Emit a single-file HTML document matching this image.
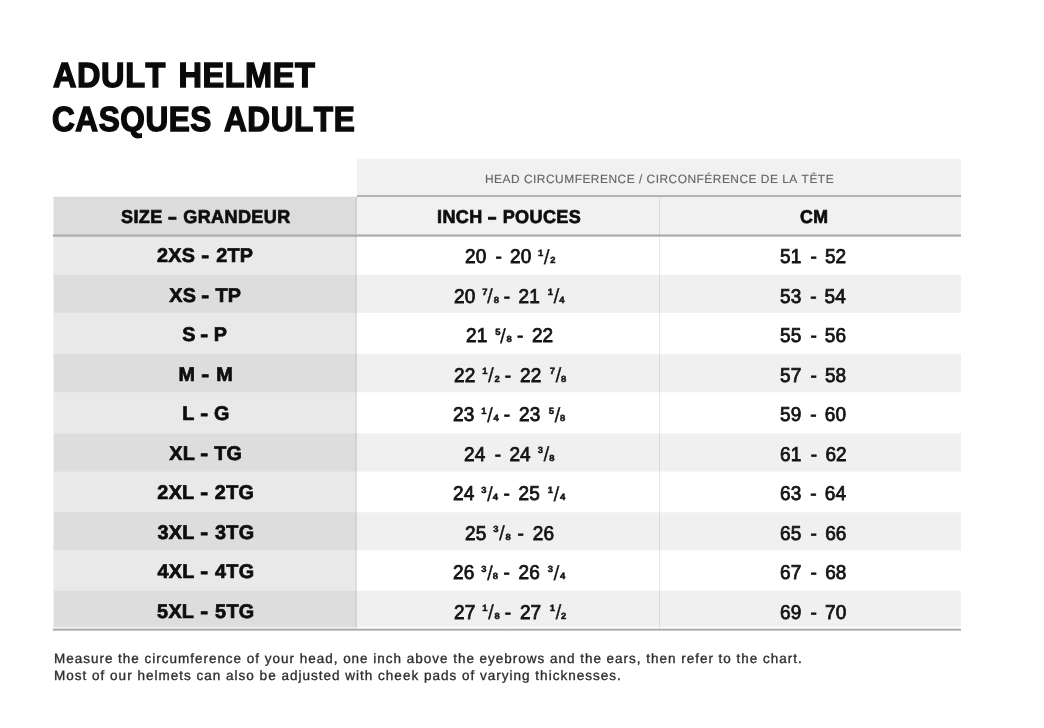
<!DOCTYPE html><html lang="en"><head><meta charset="utf-8"><title>Adult Helmet Size Chart</title><style>
html,body{margin:0;padding:0;background:#fff;}
body{width:1044px;height:728px;position:relative;overflow:hidden;font-family:"Liberation Sans",sans-serif;}
.b{position:absolute;}
.t{position:absolute;white-space:nowrap;line-height:1;transform-origin:0 0;text-rendering:geometricPrecision;font-kerning:none;filter:blur(0.35px);}
.t span{display:inline-block;}
.t .I{letter-spacing:0.1px;margin-right:-0.1px;}
.t .n,.t .d{font-size:9px;line-height:10px;font-weight:700;-webkit-text-stroke:0.5px #141414;transform:scaleX(1.1);margin:0 0.5px;}
.t .n{position:relative;top:-7.3px;}
.t .sl{font-size:20.5px;line-height:17px;margin:0 0.5px 0 0.4px;position:relative;top:0.4px;-webkit-text-stroke:0.2px #141414;transform:scaleX(1.08);}
.t .g{height:1px;}
.t .hb{transform:scaleX(1.55);margin:0 1.6px;}
.t .hs{transform:scaleX(1.2);margin:0 0.5px;}
</style></head><body>
<div class="b" style="left:357px;top:150px;width:604px;height:490px;background:linear-gradient(to bottom,rgba(255,255,255,0) 8.20px,#f1f1f1 9.20px,#f1f1f1 84.10px,rgba(255,255,255,0) 85.10px,rgba(255,255,255,0) 124.40px,#f0f0f0 125.40px,#f0f0f0 162.40px,rgba(255,255,255,0) 163.40px,rgba(255,255,255,0) 203.60px,#f0f0f0 204.60px,#f0f0f0 241.80px,rgba(255,255,255,0) 242.80px,rgba(255,255,255,0) 282.90px,#f0f0f0 283.90px,#f0f0f0 321.10px,rgba(255,255,255,0) 322.10px,rgba(255,255,255,0) 361.80px,#f0f0f0 362.80px,#f0f0f0 399.70px,rgba(255,255,255,0) 400.70px,rgba(255,255,255,0) 440.20px,#f0f0f0 441.20px,#f0f0f0 476.30px,rgba(255,255,255,0) 477.30px)"></div>
<div class="b" style="left:53px;top:150px;width:304px;height:490px;background:linear-gradient(to bottom,rgba(255,255,255,0) 46.20px,#dcdcdc 47.20px,#dcdcdc 84.10px,#e9e9e9 85.10px,#e9e9e9 124.40px,#dddddd 125.40px,#dddddd 162.40px,#e9e9e9 163.40px,#e9e9e9 203.60px,#dddddd 204.60px,#dddddd 241.80px,#e9e9e9 242.80px,#e9e9e9 282.90px,#dddddd 283.90px,#dddddd 321.10px,#e9e9e9 322.10px,#e9e9e9 361.80px,#dddddd 362.80px,#dddddd 399.70px,#e9e9e9 400.70px,#e9e9e9 440.20px,#dddddd 441.20px,#dddddd 476.30px,#efefef 477.30px,#efefef 478.20px,rgba(255,255,255,0) 479.20px)"></div>
<div class="b" style="left:53.0px;top:150.0px;width:1.0px;height:490.0px;background:rgba(255,255,255,0.5)"></div>
<div class="b" style="left:355.0px;top:197.0px;width:2.0px;height:431.0px;background:rgba(0,0,0,0.045)"></div>
<div class="b" style="left:659.0px;top:197.0px;width:1.0px;height:432.0px;background:rgba(0,0,0,0.09)"></div>
<div class="b" style="left:357px;top:193px;width:604px;height:6px;background:linear-gradient(to bottom,rgba(160,160,160,0) 1.70px,#a9a9a9 2.70px,#a9a9a9 3.40px,rgba(160,160,160,0) 4.40px)"></div>
<div class="b" style="left:53px;top:232px;width:908px;height:7px;background:linear-gradient(to bottom,rgba(160,160,160,0) 1.80px,#b8b8b8 2.80px,#a2a2a2 4.10px,rgba(160,160,160,0) 5.10px)"></div>
<div class="b" style="left:53px;top:626px;width:908px;height:7px;background:linear-gradient(to bottom,rgba(160,160,160,0) 2.20px,#a8a8a8 3.20px,#b0b0b0 4.20px,rgba(160,160,160,0) 5.20px)"></div>
<div class="t" id="t1" style="left:52.94px;top:58.94px;font-size:34.80px;line-height:34.80px;font-weight:700;color:#0a0a0a;transform:scaleX(0.9346);letter-spacing:0.60px;word-spacing:3.00px;-webkit-text-stroke:1.40px #0a0a0a;">ADULT HELMET</div>
<div class="t" id="t2" style="left:52.46px;top:102.74px;font-size:34.80px;line-height:34.80px;font-weight:700;color:#0a0a0a;transform:scaleX(0.9074);letter-spacing:0.60px;word-spacing:3.00px;-webkit-text-stroke:1.40px #0a0a0a;">CASQUES ADULTE</div>
<div class="t" id="hc" style="left:484.59px;top:173.04px;font-size:12.00px;line-height:12.00px;font-weight:400;color:#666;transform:scaleX(0.9940);letter-spacing:0.50px;-webkit-text-stroke:0.15px #666;">HEAD CIRCUMFERENCE / CIRCONFÉRENCE DE LA TÊTE</div>
<div class="t" id="h1" style="left:121.03px;top:208.46px;font-size:18.60px;line-height:18.60px;font-weight:700;color:#0d0d0d;transform:scaleX(0.9700);letter-spacing:0.40px;word-spacing:0.18px;-webkit-text-stroke:0.70px #0d0d0d;">SIZE <span class="hb">-</span> GRANDEUR</div>
<div class="t" id="h2" style="left:436.57px;top:208.36px;font-size:18.60px;line-height:18.60px;font-weight:700;color:#0d0d0d;transform:scaleX(0.9700);letter-spacing:0.40px;word-spacing:-0.15px;-webkit-text-stroke:0.70px #0d0d0d;">INCH <span class="hb">-</span> POUCES</div>
<div class="t" id="h3" style="left:799.60px;top:208.26px;font-size:18.60px;line-height:18.60px;font-weight:700;color:#0d0d0d;transform:scaleX(0.9540);letter-spacing:0.40px;-webkit-text-stroke:0.70px #0d0d0d;">CM</div>
<div class="t" id="s0" style="left:156.96px;top:247.44px;font-size:19.80px;line-height:19.80px;font-weight:700;color:#0d0d0d;letter-spacing:0.30px;word-spacing:0.72px;-webkit-text-stroke:0.70px #0d0d0d;">2XS <span class="hs">-</span> 2TP</div>
<div class="t" id="s1" style="left:169.30px;top:286.94px;font-size:19.80px;line-height:19.80px;font-weight:700;color:#0d0d0d;letter-spacing:0.30px;word-spacing:-0.16px;-webkit-text-stroke:0.70px #0d0d0d;">XS <span class="hs">-</span> TP</div>
<div class="t" id="s2" style="left:182.27px;top:326.44px;font-size:19.80px;line-height:19.80px;font-weight:700;color:#0d0d0d;letter-spacing:0.30px;word-spacing:-0.78px;-webkit-text-stroke:0.70px #0d0d0d;">S <span class="hs">-</span> P</div>
<div class="t" id="s3" style="left:178.61px;top:365.94px;font-size:19.80px;line-height:19.80px;font-weight:700;color:#0d0d0d;letter-spacing:0.30px;word-spacing:0.65px;-webkit-text-stroke:0.70px #0d0d0d;">M <span class="hs">-</span> M</div>
<div class="t" id="s4" style="left:182.32px;top:405.44px;font-size:19.80px;line-height:19.80px;font-weight:700;color:#0d0d0d;letter-spacing:0.30px;word-spacing:-0.15px;-webkit-text-stroke:0.70px #0d0d0d;">L <span class="hs">-</span> G</div>
<div class="t" id="s5" style="left:169.28px;top:444.94px;font-size:19.80px;line-height:19.80px;font-weight:700;color:#0d0d0d;letter-spacing:0.30px;word-spacing:-0.24px;-webkit-text-stroke:0.70px #0d0d0d;">XL <span class="hs">-</span> TG</div>
<div class="t" id="s6" style="left:157.33px;top:484.44px;font-size:19.80px;line-height:19.80px;font-weight:700;color:#0d0d0d;letter-spacing:0.30px;word-spacing:0.42px;-webkit-text-stroke:0.70px #0d0d0d;">2XL <span class="hs">-</span> 2TG</div>
<div class="t" id="s7" style="left:157.45px;top:523.94px;font-size:19.80px;line-height:19.80px;font-weight:700;color:#0d0d0d;letter-spacing:0.30px;word-spacing:0.45px;-webkit-text-stroke:0.70px #0d0d0d;">3XL <span class="hs">-</span> 3TG</div>
<div class="t" id="s8" style="left:157.44px;top:563.44px;font-size:19.80px;line-height:19.80px;font-weight:700;color:#0d0d0d;letter-spacing:0.30px;word-spacing:0.44px;-webkit-text-stroke:0.70px #0d0d0d;">4XL <span class="hs">-</span> 4TG</div>
<div class="t" id="s9" style="left:157.09px;top:602.94px;font-size:19.80px;line-height:19.80px;font-weight:700;color:#0d0d0d;letter-spacing:0.30px;word-spacing:0.68px;-webkit-text-stroke:0.70px #0d0d0d;">5XL <span class="hs">-</span> 5TG</div>
<div class="t" id="i0" style="left:464.71px;top:247.17px;font-size:20.00px;line-height:20.00px;font-weight:400;color:#141414;transform:scaleX(0.9500);-webkit-text-stroke:0.80px #141414;"><span class="I">20</span><span class="g" style="width:9.84px"></span><span class="H">-</span><span class="g" style="width:8.57px"></span><span class="I">20</span><span class="g" style="width:6.89px"></span><span class="F"><span class="n">1</span><span class="sl">/</span><span class="d">2</span></span></div>
<div class="t" id="i1" style="left:453.69px;top:286.67px;font-size:20.00px;line-height:20.00px;font-weight:400;color:#141414;transform:scaleX(0.9500);-webkit-text-stroke:0.80px #141414;"><span class="I">20</span><span class="g" style="width:6.65px"></span><span class="F"><span class="n">7</span><span class="sl">/</span><span class="d">8</span></span><span class="g" style="width:4.75px"></span><span class="H">-</span><span class="g" style="width:8.96px"></span><span class="I">21</span><span class="g" style="width:7.91px"></span><span class="F"><span class="n">1</span><span class="sl">/</span><span class="d">4</span></span></div>
<div class="t" id="i2" style="left:465.89px;top:326.17px;font-size:20.00px;line-height:20.00px;font-weight:400;color:#141414;transform:scaleX(0.9500);-webkit-text-stroke:0.80px #141414;"><span class="I">21</span><span class="g" style="width:7.68px"></span><span class="F"><span class="n">5</span><span class="sl">/</span><span class="d">8</span></span><span class="g" style="width:5.16px"></span><span class="H">-</span><span class="g" style="width:8.94px"></span><span class="I">22</span></div>
<div class="t" id="i3" style="left:453.67px;top:365.67px;font-size:20.00px;line-height:20.00px;font-weight:400;color:#141414;transform:scaleX(0.9500);-webkit-text-stroke:0.80px #141414;"><span class="I">22</span><span class="g" style="width:7.18px"></span><span class="F"><span class="n">1</span><span class="sl">/</span><span class="d">2</span></span><span class="g" style="width:5.28px"></span><span class="H">-</span><span class="g" style="width:9.49px"></span><span class="I">22</span><span class="g" style="width:8.44px"></span><span class="F"><span class="n">7</span><span class="sl">/</span><span class="d">8</span></span></div>
<div class="t" id="i4" style="left:453.07px;top:405.17px;font-size:20.00px;line-height:20.00px;font-weight:400;color:#141414;transform:scaleX(0.9500);-webkit-text-stroke:0.80px #141414;"><span class="I">23</span><span class="g" style="width:7.18px"></span><span class="F"><span class="n">1</span><span class="sl">/</span><span class="d">4</span></span><span class="g" style="width:5.28px"></span><span class="H">-</span><span class="g" style="width:9.49px"></span><span class="I">23</span><span class="g" style="width:8.44px"></span><span class="F"><span class="n">5</span><span class="sl">/</span><span class="d">8</span></span></div>
<div class="t" id="i5" style="left:463.93px;top:444.67px;font-size:20.00px;line-height:20.00px;font-weight:400;color:#141414;transform:scaleX(0.9500);-webkit-text-stroke:0.80px #141414;"><span class="I">24</span><span class="g" style="width:10.02px"></span><span class="H">-</span><span class="g" style="width:8.75px"></span><span class="I">24</span><span class="g" style="width:7.07px"></span><span class="F"><span class="n">3</span><span class="sl">/</span><span class="d">8</span></span></div>
<div class="t" id="i6" style="left:453.07px;top:484.17px;font-size:20.00px;line-height:20.00px;font-weight:400;color:#141414;transform:scaleX(0.9500);-webkit-text-stroke:0.80px #141414;"><span class="I">24</span><span class="g" style="width:7.00px"></span><span class="F"><span class="n">3</span><span class="sl">/</span><span class="d">4</span></span><span class="g" style="width:5.10px"></span><span class="H">-</span><span class="g" style="width:9.31px"></span><span class="I">25</span><span class="g" style="width:8.26px"></span><span class="F"><span class="n">1</span><span class="sl">/</span><span class="d">4</span></span></div>
<div class="t" id="i7" style="left:464.51px;top:523.67px;font-size:20.00px;line-height:20.00px;font-weight:400;color:#141414;transform:scaleX(0.9500);-webkit-text-stroke:0.80px #141414;"><span class="I">25</span><span class="g" style="width:7.51px"></span><span class="F"><span class="n">3</span><span class="sl">/</span><span class="d">8</span></span><span class="g" style="width:6.88px"></span><span class="H">-</span><span class="g" style="width:9.41px"></span><span class="I">26</span></div>
<div class="t" id="i8" style="left:453.07px;top:563.17px;font-size:20.00px;line-height:20.00px;font-weight:400;color:#141414;transform:scaleX(0.9500);-webkit-text-stroke:0.80px #141414;"><span class="I">26</span><span class="g" style="width:7.00px"></span><span class="F"><span class="n">3</span><span class="sl">/</span><span class="d">8</span></span><span class="g" style="width:5.10px"></span><span class="H">-</span><span class="g" style="width:9.31px"></span><span class="I">26</span><span class="g" style="width:8.26px"></span><span class="F"><span class="n">3</span><span class="sl">/</span><span class="d">4</span></span></div>
<div class="t" id="i9" style="left:453.67px;top:602.67px;font-size:20.00px;line-height:20.00px;font-weight:400;color:#141414;transform:scaleX(0.9500);-webkit-text-stroke:0.80px #141414;"><span class="I">27</span><span class="g" style="width:7.12px"></span><span class="F"><span class="n">1</span><span class="sl">/</span><span class="d">8</span></span><span class="g" style="width:5.23px"></span><span class="H">-</span><span class="g" style="width:9.44px"></span><span class="I">27</span><span class="g" style="width:8.39px"></span><span class="F"><span class="n">1</span><span class="sl">/</span><span class="d">2</span></span></div>
<div class="t" id="c0" style="left:779.90px;top:247.17px;font-size:20.00px;line-height:20.00px;font-weight:400;color:#141414;transform:scaleX(0.9500);-webkit-text-stroke:0.80px #141414;"><span class="I">51</span><span class="g" style="width:9.65px"></span><span class="H">-</span><span class="g" style="width:8.60px"></span><span class="I">52</span></div>
<div class="t" id="c1" style="left:779.92px;top:286.67px;font-size:20.00px;line-height:20.00px;font-weight:400;color:#141414;transform:scaleX(0.9500);-webkit-text-stroke:0.80px #141414;"><span class="I">53</span><span class="g" style="width:9.43px"></span><span class="H">-</span><span class="g" style="width:8.38px"></span><span class="I">54</span></div>
<div class="t" id="c2" style="left:779.90px;top:326.17px;font-size:20.00px;line-height:20.00px;font-weight:400;color:#141414;transform:scaleX(0.9500);-webkit-text-stroke:0.80px #141414;"><span class="I">55</span><span class="g" style="width:9.63px"></span><span class="H">-</span><span class="g" style="width:8.58px"></span><span class="I">56</span></div>
<div class="t" id="c3" style="left:779.92px;top:365.67px;font-size:20.00px;line-height:20.00px;font-weight:400;color:#141414;transform:scaleX(0.9500);-webkit-text-stroke:0.80px #141414;"><span class="I">57</span><span class="g" style="width:9.68px"></span><span class="H">-</span><span class="g" style="width:8.62px"></span><span class="I">58</span></div>
<div class="t" id="c4" style="left:779.90px;top:405.17px;font-size:20.00px;line-height:20.00px;font-weight:400;color:#141414;transform:scaleX(0.9500);-webkit-text-stroke:0.80px #141414;"><span class="I">59</span><span class="g" style="width:9.55px"></span><span class="H">-</span><span class="g" style="width:8.50px"></span><span class="I">60</span></div>
<div class="t" id="c5" style="left:779.66px;top:444.67px;font-size:20.00px;line-height:20.00px;font-weight:400;color:#141414;transform:scaleX(0.9500);-webkit-text-stroke:0.80px #141414;"><span class="I">61</span><span class="g" style="width:9.93px"></span><span class="H">-</span><span class="g" style="width:8.88px"></span><span class="I">62</span></div>
<div class="t" id="c6" style="left:779.68px;top:484.17px;font-size:20.00px;line-height:20.00px;font-weight:400;color:#141414;transform:scaleX(0.9500);-webkit-text-stroke:0.80px #141414;"><span class="I">63</span><span class="g" style="width:9.59px"></span><span class="H">-</span><span class="g" style="width:8.54px"></span><span class="I">64</span></div>
<div class="t" id="c7" style="left:779.66px;top:523.67px;font-size:20.00px;line-height:20.00px;font-weight:400;color:#141414;transform:scaleX(0.9500);-webkit-text-stroke:0.80px #141414;"><span class="I">65</span><span class="g" style="width:9.79px"></span><span class="H">-</span><span class="g" style="width:8.73px"></span><span class="I">66</span></div>
<div class="t" id="c8" style="left:779.68px;top:563.17px;font-size:20.00px;line-height:20.00px;font-weight:400;color:#141414;transform:scaleX(0.9500);-webkit-text-stroke:0.80px #141414;"><span class="I">67</span><span class="g" style="width:9.78px"></span><span class="H">-</span><span class="g" style="width:8.72px"></span><span class="I">68</span></div>
<div class="t" id="c9" style="left:779.66px;top:602.67px;font-size:20.00px;line-height:20.00px;font-weight:400;color:#141414;transform:scaleX(0.9500);-webkit-text-stroke:0.80px #141414;"><span class="I">69</span><span class="g" style="width:9.71px"></span><span class="H">-</span><span class="g" style="width:8.66px"></span><span class="I">70</span></div>
<div class="t" id="f1" style="left:53.61px;top:651.79px;font-size:13.60px;line-height:13.60px;font-weight:400;color:#2e2e2e;transform:scaleX(0.9915);letter-spacing:1.00px;-webkit-text-stroke:0.35px #2e2e2e;">Measure the circumference of your head, one inch above the eyebrows and the ears, then refer to the chart.</div>
<div class="t" id="f2" style="left:53.54px;top:669.09px;font-size:13.60px;line-height:13.60px;font-weight:400;color:#2e2e2e;transform:scaleX(0.9954);letter-spacing:1.00px;-webkit-text-stroke:0.35px #2e2e2e;">Most of our helmets can also be adjusted with cheek pads of varying thicknesses.</div>
</body></html>
